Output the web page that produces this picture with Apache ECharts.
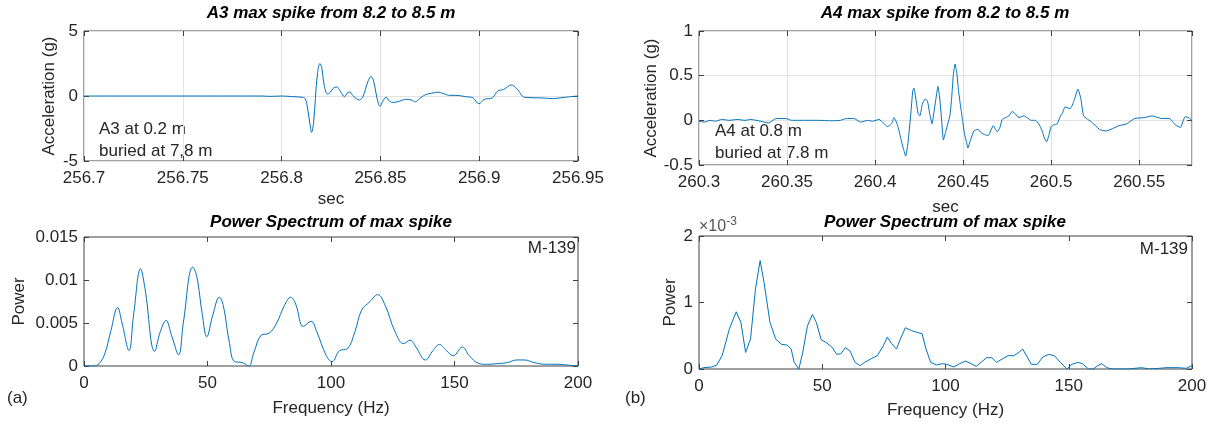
<!DOCTYPE html>
<html>
<head>
<meta charset="utf-8">
<script src="https://cdn.jsdelivr.net/npm/echarts@6/dist/echarts.min.js"></script>
<style>
  html, body { margin: 0; padding: 0; background: #fff; }
  #chart { width: 1215px; height: 429px; }
</style>
</head>
<body>
<div id="chart"></div>
<script>
// A3 acceleration record around the max spike (time in s, acceleration in g)
const a3Time = [256.70, 256.75, 256.7900, 256.7940, 256.8000, 256.8056, 256.8106, 256.8120, 256.8132, 256.8144,
  256.8152, 256.8162, 256.8171, 256.8182, 256.8194, 256.8203, 256.8216, 256.8233, 256.8247, 256.8262,
  256.8279, 256.8296, 256.8318, 256.8334, 256.8346, 256.8360, 256.8377, 256.8394, 256.8410, 256.8424,
  256.8439, 256.8453, 256.8465, 256.8478, 256.8490, 256.8498, 256.8512, 256.8529, 256.8546, 256.8566,
  256.8596, 256.8630, 256.8655, 256.8677, 256.8698, 256.8728, 256.8757, 256.8791, 256.8816, 256.8850,
  256.8882, 256.8931, 256.8969, 256.8998, 256.9027, 256.9066, 256.9095, 256.9124, 256.9162, 256.9191,
  256.9230, 256.9317, 256.9375, 256.9432, 256.9500];
const a3Acc = [0, 0, 0, -0.03, 0, -0.05, -0.1, -0.2, -1.0, -2.2,
  -2.8, -2.0, -0.2, 1.8, 2.5, 2.2, 0.8, 0.15, 0.3, 0.6,
  0.7, 0.4, -0.05, 0.25, 0.3, 0.05, -0.2, -0.3, -0.1, 0.5,
  1.2, 1.5, 1.2, 0.2, -0.6, -0.8, -0.4, -0.1, -0.4, -0.5,
  -0.4, -0.25, -0.3, -0.45, -0.2, 0.1, 0.2, 0.3, 0.2, 0.05,
  0.05, -0.05, -0.15, -0.6, -0.25, -0.15, 0.4, 0.5, 0.85, 0.55,
  -0.1, -0.15, -0.2, -0.1, 0];

// A4 acceleration record around the max spike
const a4Time = [260.3000, 260.3029, 260.3062, 260.3095, 260.3128, 260.3173, 260.3217, 260.3261, 260.3294, 260.3349,
  260.3394, 260.3438, 260.3493, 260.3526, 260.3593, 260.3681, 260.3748, 260.3803, 260.3836, 260.3880,
  260.3919, 260.3957, 260.3985, 260.4023, 260.4047, 260.4070, 260.4093, 260.4108, 260.4127, 260.4146,
  260.4161, 260.4174, 260.4187, 260.4202, 260.4214, 260.4221, 260.4231, 260.4244, 260.4255, 260.4268,
  260.4284, 260.4297, 260.4310, 260.4323, 260.4335, 260.4350, 260.4357, 260.4367, 260.4378, 260.4388,
  260.4401, 260.4414, 260.4425, 260.4435, 260.4444, 260.4454, 260.4463, 260.4473, 260.4486, 260.4497,
  260.4508, 260.4520, 260.4527, 260.4542, 260.4561, 260.4584, 260.4603, 260.4622, 260.4643, 260.4656,
  260.4671, 260.4684, 260.4694, 260.4709, 260.4722, 260.4741, 260.4760, 260.4779, 260.4798, 260.4817,
  260.4845, 260.4864, 260.4887, 260.4911, 260.4930, 260.4949, 260.4962, 260.4974, 260.4987, 260.5000,
  260.5015, 260.5034, 260.5053, 260.5064, 260.5079, 260.5108, 260.5130, 260.5152, 260.5168, 260.5185,
  260.5230, 260.5274, 260.5307, 260.5340, 260.5385, 260.5429, 260.5473, 260.5528, 260.5573, 260.5628,
  260.5672, 260.5705, 260.5734, 260.5761, 260.5783, 260.5800];
const a4Acc = [-0.01, -0.02, 0, -0.01, 0.01, 0, 0.01, 0, 0.01, -0.01,
  -0.03, 0.02, 0.02, 0, 0, 0, -0.005, 0, 0.02, 0.02,
  -0.02, 0, -0.01, 0.01, -0.03, -0.07, -0.04, 0.03, -0.05, -0.2,
  -0.32, -0.4, -0.25, 0.05, 0.33, 0.36, 0.25, 0.08, 0.05, 0.18,
  0.24, 0.22, 0.08, -0.04, 0.1, 0.3, 0.38, 0.25, 0, -0.22,
  -0.13, -0.03, 0.05, 0.25, 0.5, 0.63, 0.55, 0.35, 0.15, 0,
  -0.15, -0.25, -0.31, -0.22, -0.12, -0.1, -0.14, -0.16, -0.17, -0.12,
  -0.06, -0.1, -0.13, -0.08, 0.01, 0.03, 0.05, 0.1, 0.07, 0.03,
  0.05, 0.03, 0, 0, -0.04, -0.12, -0.2, -0.24, -0.17, -0.07,
  -0.05, -0.04, 0.05, 0.08, 0.15, 0.13, 0.22, 0.35, 0.25, 0.05,
  -0.02, -0.1, -0.12, -0.1, -0.06, -0.04, 0.02, 0.03, 0.05, 0.02,
  0.02, -0.05, -0.08, 0.04, 0.03, -0.01];

// Power spectrum of the A3 spike (Hz, power)
const specAFreq = [0, 3.9, 6.2, 8.5, 10.8, 13.6, 15.4, 18.2, 20.1, 22.9,
  24.7, 28.6, 30.9, 33.2, 35.5, 38.3, 40.2, 44.0, 45.6, 47.9,
  49.7, 52.2, 54.8, 56.4, 58.7, 61.0, 64.1, 66.7, 68.7, 71.8,
  74.9, 78.0, 81.1, 83.7, 85.7, 88.8, 91.9, 94.2, 98.1, 100.4,
  103.5, 106.6, 109.7, 112.4, 115.8, 118.9, 122.0, 125.9, 129.4, 132.0,
  134.4, 138.2, 141.3, 143.9, 146.7, 149.5, 153.2, 156.0, 159.8, 162.9,
  168.3, 171.4, 175.3, 178.4, 182.2, 186.9, 191.5, 196.1, 200];
const specAPower = [0, 0, 0.0003, 0.0015, 0.004, 0.0068, 0.005, 0.0018, 0.006, 0.0113,
  0.009, 0.0017, 0.004, 0.0053, 0.0035, 0.0013, 0.005, 0.0115, 0.0105, 0.006,
  0.0034, 0.006, 0.008, 0.007, 0.003, 0.0005, 0.0004, 0, 0.0015, 0.0036,
  0.0038, 0.005, 0.007, 0.008, 0.0072, 0.0046, 0.0052, 0.004, 0.0012, 0.0005,
  0.0018, 0.002, 0.004, 0.0065, 0.0075, 0.0083, 0.007, 0.004, 0.0026, 0.003,
  0.0022, 0.0007, 0.0018, 0.0025, 0.0018, 0.0012, 0.0022, 0.0012, 0.0003, 0.0002,
  0.0003, 0.0004, 0.0007, 0.0007, 0.0004, 0.0002, 0.0002, 0.0001, 0];

// Power spectrum of the A4 spike, power given in units of 1e-3
const specBFreq = [0, 2.0, 5.2, 7.2, 9.4, 12.3, 15.1, 17.0, 18.9, 20.9,
  22.9, 24.8, 26.4, 28.8, 31.1, 33.5, 35.8, 37.4, 38.6, 40.5,
  42.1, 44.0, 46.0, 47.6, 49.6, 51.5, 53.9, 55.9, 57.5, 59.4,
  61.3, 63.3, 65.4, 67.2, 70.1, 72.3, 74.8, 76.4, 78.2, 80.1,
  81.7, 83.7, 86.1, 88.5, 90.5, 92.1, 94.0, 96.3, 98.7, 100.5,
  103.4, 105.7, 108.1, 110.4, 112.5, 114.4, 116.7, 118.8, 120.7, 123.0,
  125.4, 127.7, 129.8, 131.3, 133.2, 134.8, 137.2, 139.5, 141.9, 144.2,
  146.6, 149.3, 151.3, 153.7, 155.5, 158.0, 159.9, 161.8, 163.4, 165.4,
  167.8, 174.1, 179.6, 182.7, 186.6, 189.8, 194.5, 197.6, 200];
const specBPowerE3 = [0, 0.02, 0.03, 0.06, 0.2, 0.6, 0.86, 0.7, 0.25, 0.45,
  1.2, 1.63, 1.3, 0.7, 0.45, 0.37, 0.36, 0.3, 0.1, 0,
  0.25, 0.65, 0.82, 0.7, 0.44, 0.4, 0.33, 0.22, 0.23, 0.32,
  0.27, 0.1, 0.05, 0.1, 0.16, 0.2, 0.35, 0.48, 0.38, 0.3,
  0.45, 0.62, 0.58, 0.55, 0.53, 0.3, 0.1, 0.06, 0.08, 0.07,
  0.03, 0.08, 0.12, 0.08, 0.04, 0.1, 0.17, 0.17, 0.1, 0.15,
  0.2, 0.2, 0.25, 0.3, 0.18, 0.07, 0.07, 0.18, 0.22, 0.2,
  0.1, 0, 0.07, 0.1, 0.08, 0, 0, 0.05, 0.08, 0.02,
  0, 0, 0.02, 0, 0.01, 0.02, 0.02, 0.01, 0.05];

// Axis ranges and tick steps: [min, max, interval]
const ticksA3Time = [256.7, 256.95, 0.05];
const ticksA4Time = [260.3, 260.58, 0.05];
const ticksA3Acc = [-5, 5, 5];
const ticksA4Acc = [-0.5, 1, 0.5];
const ticksFreq = [0, 200, 50];
const ticksPowerA = [0, 0.015, 0.005];
const ticksPowerB = [0, 0.002, 0.001];

const LINE = '#0072BD';
const AX = '#262626';
const FRAME = '#404040';
const GRIDC = '#e2e2e2';
const FONT = '"Liberation Sans", Arial, Helvetica, sans-serif';
const FS = 17;

const pairs = (xs, ys, k) => xs.map((x, i) => [x, ys[i] * (k || 1)]);
const fmt = d => v => String(parseFloat(v.toFixed(d)));
const tickStyle = { show: true, inside: true, length: 5, lineStyle: { color: FRAME } };
const labelStyle = (margin, extra) => Object.assign({ color: AX, fontSize: FS, fontFamily: FONT, margin: margin }, extra || {});

function mainX(gi, t, opts) {
  return Object.assign({
    type: 'value', gridIndex: gi, min: t[0], max: t[1], interval: t[2],
    axisLine: { show: false, onZero: false },
    axisTick: tickStyle,
    axisLabel: labelStyle(9),
    nameLocation: 'middle',
    nameTextStyle: { color: AX, fontSize: FS, fontFamily: FONT },
    splitLine: { show: false }
  }, opts);
}
function mainY(gi, t, opts) {
  return Object.assign({
    type: 'value', gridIndex: gi, min: t[0], max: t[1], interval: t[2],
    axisLine: { show: false, onZero: false },
    axisTick: tickStyle,
    axisLabel: labelStyle(6),
    nameLocation: 'middle', nameRotate: 90,
    nameTextStyle: { color: AX, fontSize: FS, fontFamily: FONT },
    splitLine: { show: false }
  }, opts);
}
// tick-only axes on the opposite sides of each box
function mirror(gi, t, pos) {
  return {
    type: 'value', gridIndex: gi, min: t[0], max: t[1], interval: t[2], position: pos,
    axisLine: { show: false, onZero: false }, axisLabel: { show: false }, splitLine: { show: false },
    axisTick: tickStyle
  };
}

const gridLine = { show: true, lineStyle: { color: GRIDC, width: 1 } };

const grids = [
  { left: 84, top: 31, width: 494, height: 130 },
  { left: 699, top: 31, width: 493, height: 134 },
  { left: 84, top: 237, width: 494, height: 129 },
  { left: 699, top: 236, width: 493, height: 133 }
].map(g => Object.assign(g, { show: true, borderColor: FRAME, borderWidth: 1, backgroundColor: '#fff' }));

const xAxes = [
  mainX(0, ticksA3Time, { name: 'sec', nameGap: 30, splitLine: gridLine, axisLabel: labelStyle(9, { formatter: fmt(2) }) }),
  mainX(1, ticksA4Time, { name: 'sec', nameGap: 34, splitLine: gridLine, axisLabel: labelStyle(9, { formatter: fmt(2), showMaxLabel: false }) }),
  mainX(2, ticksFreq, { name: 'Frequency (Hz)', nameGap: 34 }),
  mainX(3, ticksFreq, { name: 'Frequency (Hz)', nameGap: 33 }),
  mirror(0, ticksA3Time, 'top'),
  mirror(1, ticksA4Time, 'top'),
  mirror(2, ticksFreq, 'top'),
  mirror(3, ticksFreq, 'top')
];

const yAxes = [
  mainY(0, ticksA3Acc, { name: 'Acceleration (g)', nameGap: 26 }),
  mainY(1, ticksA4Acc, { name: 'Acceleration (g)', nameGap: 38 }),
  mainY(2, ticksPowerA, { name: 'Power', nameGap: 56, axisLabel: labelStyle(6, { formatter: fmt(3) }) }),
  mainY(3, ticksPowerB, { name: 'Power', nameGap: 20, axisLabel: labelStyle(6, { formatter: v => String(Math.round(v * 1000)) }) }),
  mirror(0, ticksA3Acc, 'right'),
  mirror(1, ticksA4Acc, 'right'),
  mirror(2, ticksPowerA, 'right'),
  mirror(3, ticksPowerB, 'right')
];
yAxes[0].splitLine = gridLine;
yAxes[1].splitLine = gridLine;

function lineSeries(xi, data, smooth) {
  return {
    type: 'line', xAxisIndex: xi, yAxisIndex: xi, data: data,
    showSymbol: false, smooth: smooth, clip: true, silent: true, animation: false,
    lineStyle: { color: LINE, width: 1 }
  };
}

const series = [
  lineSeries(0, pairs(a3Time, a3Acc), 0.35),
  lineSeries(1, pairs(a4Time, a4Acc), 0.15),
  lineSeries(2, pairs(specAFreq, specAPower), 0.4),
  lineSeries(3, pairs(specBFreq, specBPowerE3, 1e-3), false)
];

function txt(x, y, text, extra) {
  return {
    type: 'text', x: x, y: y, silent: true,
    style: Object.assign({ text: text, fill: AX, font: FS + 'px ' + FONT, textAlign: 'left', textVerticalAlign: 'middle' }, extra || {})
  };
}
const titleStyle = { fill: '#000', font: 'italic bold 17px ' + FONT, textAlign: 'center' };

const graphics = [
  txt(331, 13, 'A3 max spike from 8.2 to 8.5 m', titleStyle),
  txt(945, 13, 'A4 max spike from 8.2 to 8.5 m', titleStyle),
  txt(331, 222, 'Power Spectrum of max spike', titleStyle),
  txt(945, 222, 'Power Spectrum of max spike', titleStyle),
  txt(99, 129, 'A3 at 0.2 m'),
  txt(99, 151, 'buried at 7,8 m'),
  txt(715, 131, 'A4 at 0.8 m'),
  txt(715, 153, 'buried at 7.8 m'),
  txt(576, 248, 'M-139', { textAlign: 'right' }),
  txt(1188, 249, 'M-139', { textAlign: 'right' }),
  txt(7, 398, '(a)'),
  txt(625, 398, '(b)'),
  {
    type: 'text', x: 699, y: 227, silent: true,
    style: {
      text: '×10{sup|-3}', fill: '#555', font: '16px ' + FONT, textVerticalAlign: 'middle',
      rich: { sup: { fontSize: 12, fontFamily: FONT, fill: '#555', padding: [0, 0, 10, 0] } }
    }
  }
];

const chart = echarts.init(document.getElementById('chart'), null, { renderer: 'canvas' });
chart.setOption({
  animation: false,
  backgroundColor: '#fff',
  grid: grids,
  xAxis: xAxes,
  yAxis: yAxes,
  series: series,
  graphic: graphics
});
</script>
</body>
</html>
